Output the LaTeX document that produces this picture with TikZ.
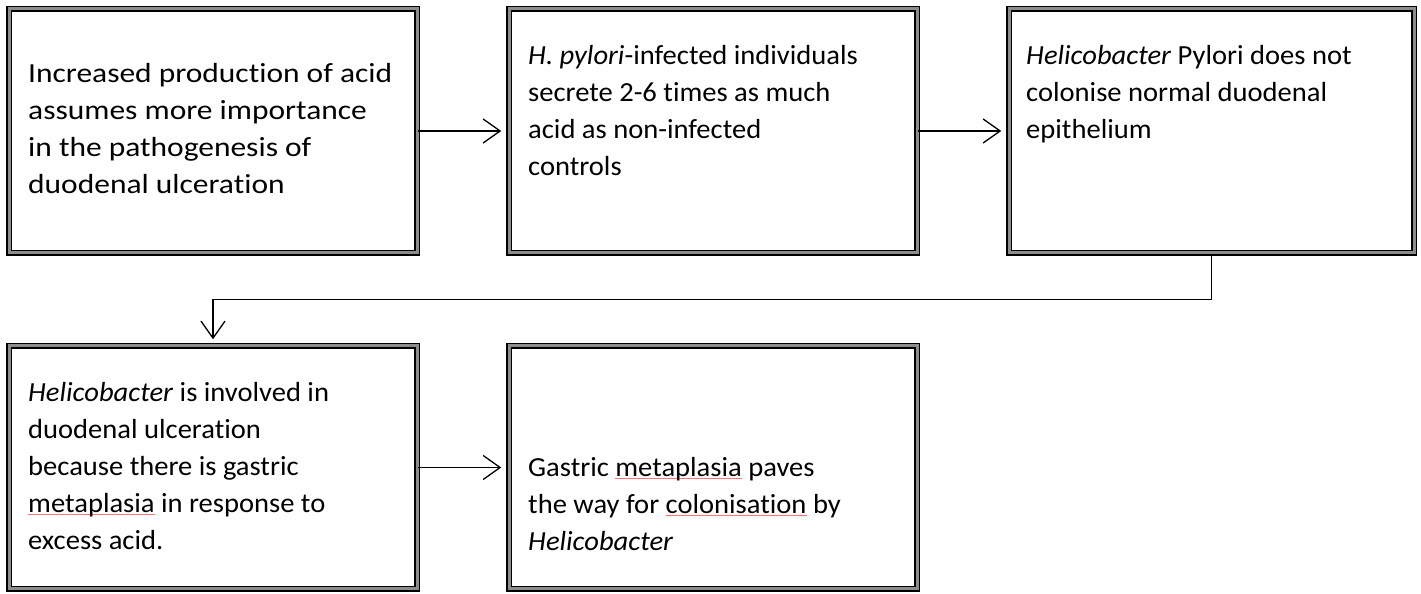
\documentclass[tikz,border=0pt]{standalone}
\usepackage{fontspec}
\setmainfont{Carlito}[Ligatures=NoCommon, FakeStretch=1.14]
\newfontfamily\plainfont{Carlito}[Ligatures=NoCommon, FakeStretch=1.035]
\usetikzlibrary{arrows.meta,shadows}
\newsavebox\spellbox
\newcommand\spellmark[1]{\leavevmode\sbox\spellbox{#1}\rlap{\textcolor{red!55}{\rule[-3pt]{\wd\spellbox}{0.9pt}}}\usebox\spellbox}
\newcommand\firstline{\rule{0pt}{24pt}}
\begin{document}
\begin{tikzpicture}[x=1pt,y=1pt,
  boxnode/.style={rectangle, draw=black, line width=1.5pt, double=black!45,
    double distance=3pt, fill=white, inner sep=0pt,
    drop shadow={opacity=0.12, shadow xshift=2pt, shadow yshift=-3pt}},
  wide/.style={minimum width=408pt},
  tall/.style={minimum height=244pt},
  txt/.style={anchor=north west, align=left, inner sep=0pt,
    font=\fontsize{27.6}{37}\selectfont},
  txtb/.style={txt, font=\plainfont\fontsize{27.6}{37}\selectfont},
  conn/.style={line width=1.3pt, -{Straight Barb[length=17pt,width=24pt,line width=1.3pt]}}
]
\useasboundingbox (0,0) rectangle (1421,594);
% boxes (centres in image coordinates flipped: y = 594 - y_img)
\node[boxnode, wide, tall] (box1) at (213,463) {};
\node[boxnode, wide, tall] (box2) at (713,463) {};
\node[boxnode, minimum width=405pt, tall] (box3) at (1211.5,463) {};
\node[boxnode, wide, minimum height=243pt] (box4) at (213,126.5) {};
\node[boxnode, wide, minimum height=243pt] (box5) at (713,126.5) {};
% texts
\node[txt] (t1) at (28,535.3) {\firstline Increased production of acid\\assumes more importance\\in the pathogenesis of\\duodenal ulceration};
\node[txtb] (t2) at (528,554) {\firstline\textit{H. pylori}-infected individuals\\secrete 2-6 times as much\\acid as non-infected\\controls};
\node[txtb] (t3) at (1026,554) {\firstline\textit{Helicobacter} Pylori does not\\colonise normal duodenal\\epithelium};
\node[txtb] (t4) at (28,217) {\firstline\textit{Helicobacter} is involved in\\duodenal ulceration\\because there is gastric\\\spellmark{metaplasia} in response to\\excess acid.};
\node[txtb] (t5) at (528,142) {\firstline Gastric \spellmark{metaplasia} paves\\the way for \spellmark{colonisation} by\\\textit{Helicobacter}};
% connectors
\draw[conn, shorten >=7pt] (box1.east) -- (box2.west);
\draw[conn, shorten >=7pt] (box2.east) -- (box3.west);
\draw[conn, shorten >=6pt] (box3.south) -- ++(0,-46) -| (box4.north);
\draw[conn, shorten >=7pt] (box4.east) -- (box5.west);
\end{tikzpicture}
\end{document}
